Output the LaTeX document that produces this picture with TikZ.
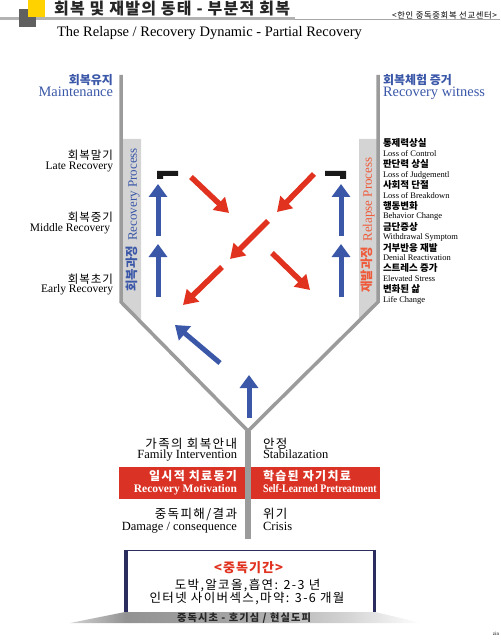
\documentclass[tikz,border=0pt]{standalone}
\usepackage{fontspec}
\setmainfont{Liberation Serif}
\newfontfamily\kr{Noto Sans CJK KR}
\newfontfamily\krsp[LetterSpace=11]{Noto Sans CJK KR}
\newfontfamily\krti[LetterSpace=8]{Noto Sans CJK KR}
\usetikzlibrary{arrows.meta,positioning}

\definecolor{recblue}{HTML}{3A57A8}
\definecolor{relred}{HTML}{E0321F}
\definecolor{barred}{HTML}{DA3326}
\definecolor{orred}{HTML}{EF5A3A}
\definecolor{ygray}{HTML}{9B9B9B}
\definecolor{bandgray}{HTML}{D4D4D4}
\definecolor{boxnavy}{HTML}{2B2D5E}
\definecolor{hdyellow}{HTML}{FFD200}

\newcommand{\krsize}[1]{\kr\fontsize{#1}{#1}\selectfont}
\newcommand{\krwide}[1]{\krsp\fontsize{#1}{#1}\selectfont}
\newcommand{\krmid}[1]{\krti\fontsize{#1}{#1}\selectfont}
\newcommand{\ensize}[1]{\fontsize{#1}{#1}\selectfont}

\pgfdeclarehorizontalshading{stripshade}{100bp}{color(0bp)=(gray!35); color(25bp)=(gray!35); color(33bp)=(gray!85); color(50bp)=(gray!70); color(64bp)=(gray!35); color(75bp)=(white); color(100bp)=(white)}

\begin{document}
\begin{tikzpicture}[
  x=1pt, y=-1pt,
  every node/.style={inner sep=0pt, outer sep=0pt},
  krlab/.style={font=\krmid{11.5}, anchor=base east},
  enlab/.style={font=\ensize{11.5}, anchor=base east},
  krhead/.style={font=\krsize{12}\bfseries, text=recblue},
  enhead/.style={font=\ensize{14.4}, text=recblue},
  krrel/.style={font=\krsize{9.5}\bfseries, anchor=base west},
  enrel/.style={font=\ensize{8.5}, anchor=base west},
  krbot/.style={font=\krwide{12.5}},
  enbot/.style={font=\ensize{12.5}},
  upblue/.style={draw=recblue, line width=5pt, -{Triangle[width=18pt,length=13pt]}},
  redarr/.style={draw=relred, line width=5.5pt, -{Triangle[width=17pt,length=14pt]}},
  yline/.style={draw=ygray, line width=3.5pt, line join=miter},
  ]
  \useasboundingbox (0,0) rectangle (500,644);

  % header
  \draw[gray!60, line width=3pt] (0,19) -- (295,19);
  \draw[gray!70, line width=1pt] (295,20) -- (500,20);
  \fill[gray!75!black] (19,9) rectangle (36,27);
  \fill[hdyellow] (28,0) rectangle (45,17);
  \node[font=\krmid{16}\bfseries, text=black!85, anchor=base west] (title) at (54,15) {회복 및 재발의 동태 - 부분적 회복};
  \node[font=\krmid{8.3}, anchor=base east] (mission) at (497,18.5) {<한인 중독중회복 선교센터>};
  \node[font=\ensize{14.5}, anchor=base west] (subtitle) at (57,36.6) {The Relapse / Recovery Dynamic - Partial Recovery};

  % bands beside the Y
  \fill[bandgray] (121,139) -- (141,139) -- (141,322) -- (121,302) -- cycle;
  \fill[bandgray] (359,139) -- (378,139) -- (378,302) -- (359,321) -- cycle;

  % red bar
  \fill[barred] (119,467) rectangle (380,499);

  % the Y
  \coordinate (ltop) at (121,75);
  \coordinate (lbend) at (121,302);
  \coordinate (vjoin) at (248,431);
  \coordinate (rbend) at (378,302);
  \coordinate (rtop) at (378,75);
  \coordinate (stembot) at (248,539);
  \draw[yline] (ltop) -- (lbend) -- (vjoin) -- (rbend) -- (rtop);
  \draw[ygray, line width=6pt] (vjoin) -- (stembot);

  \node[rotate=90, text=recblue] (recproc) at (133,220) {{\krsize{12.5}\bfseries 회복과정}\hspace{5pt}{\ensize{13}Recovery Process}};
  \node[rotate=90, text=orred] (relproc) at (368,225) {{\krsize{12.5}\bfseries 재발과정}\hspace{5pt}{\ensize{13}Relapse Process}};

  % left labels
  \node[krhead, anchor=base east] (mainkr) at (113,85) {회복유지};
  \node[enhead, anchor=base east] (mainen) at (113,97) {Maintenance};
  \node[krlab] (latekr) at (113,160) {회복말기};
  \node[enlab] (lateen) at (113,170) {Late Recovery};
  \node[krlab] (midkr) at (113,222) {회복중기};
  \node[enlab] (miden) at (110,231) {Middle Recovery};
  \node[krlab] (earlykr) at (113,283) {회복초기};
  \node[enlab] (earlyen) at (113,292) {Early Recovery};

  % right labels
  \node[krhead, anchor=base west] (witkr) at (383,85) {회복체험 증거};
  \node[enhead, anchor=base west] (witen) at (383,97) {Recovery witness};
  \node[krrel] (ctrlkr) at (383,147) {통제력상실};
  \node[enrel] (ctrlen) at (383,156.5) {Loss of Control};
  \node[krrel] (judgkr) at (383,167.8) {판단력 상실};
  \node[enrel] (judgen) at (383,177.3) {Loss of Judgementl};
  \node[krrel] (sockr) at (383,188.6) {사회적 단절};
  \node[enrel] (socen) at (383,198.1) {Loss of Breakdown};
  \node[krrel] (behkr) at (383,209.4) {행동변화};
  \node[enrel] (behen) at (383,218.9) {Behavior Change};
  \node[krrel] (wdkr) at (383,230.2) {금단증상};
  \node[enrel] (wden) at (383,239.7) {Withdrawal Symptom};
  \node[krrel] (denkr) at (383,251) {거부반응 재발};
  \node[enrel] (denen) at (383,260.5) {Denial Reactivation};
  \node[krrel] (strkr) at (383,271.8) {스트레스 증가};
  \node[enrel] (stren) at (383,281.3) {Elevated Stress};
  \node[krrel] (lifekr) at (383,292.6) {변화된 삶};
  \node[enrel] (lifeen) at (383,302.1) {Life Change};

  % brackets
  \fill[black!90] (157,171) -- (178,171) -- (178,176) -- (163,176) -- (163,179) -- (157,179) -- cycle;
  \fill[black!90] (325,171) -- (346,171) -- (346,179) -- (340,179) -- (340,176) -- (325,176) -- cycle;

  % blue arrows
  \coordinate (lu1a) at (158,236); \coordinate (lu1b) at (158,184);
  \coordinate (lu2a) at (158,297); \coordinate (lu2b) at (158,244);
  \coordinate (ru1a) at (341,236); \coordinate (ru1b) at (341,184);
  \coordinate (ru2a) at (341,297); \coordinate (ru2b) at (341,244);
  \coordinate (dga) at (220,363); \coordinate (dgb) at (175,325);
  \coordinate (cua) at (249,418); \coordinate (cub) at (249,375);
  \draw[upblue] (lu1a) -- (lu1b);
  \draw[upblue] (lu2a) -- (lu2b);
  \draw[upblue] (ru1a) -- (ru1b);
  \draw[upblue] (ru2a) -- (ru2b);
  \draw[upblue] (dga) -- (dgb);
  \draw[upblue] (cua) -- (cub);

  % red arrows
  \coordinate (r1a) at (191,177); \coordinate (r1b) at (229,213);
  \coordinate (r2a) at (314,174); \coordinate (r2b) at (277,212);
  \coordinate (r3a) at (268,221); \coordinate (r3b) at (230,259);
  \coordinate (r4a) at (272,253); \coordinate (r4b) at (310,290);
  \coordinate (r5a) at (222,267); \coordinate (r5b) at (183,305);
  \draw[redarr] (r1a) -- (r1b);
  \draw[redarr] (r2a) -- (r2b);
  \draw[redarr] (r3a) -- (r3b);
  \draw[redarr] (r4a) -- (r4b);
  \draw[redarr] (r5a) -- (r5b);

  % stem labels
  \node[krbot, anchor=base east] (famkr) at (237,448) {가족의 회복안내};
  \node[enbot, anchor=base east] (famen) at (237,458) {Family Intervention};
  \node[krbot, anchor=base west] (stabkr) at (263,448) {안정};
  \node[enbot, anchor=base west] (staben) at (263,458) {Stabilazation};
  \node[font=\krwide{12}\bfseries, text=white, anchor=base east] (motkr) at (237,480.5) {일시적 치료동기};
  \node[font=\ensize{11.5}\bfseries, text=white, anchor=base east] (moten) at (237,492) {Recovery Motivation};
  \node[font=\krwide{12}\bfseries, text=white, anchor=base west] (selfkr) at (263,480.5) {학습된 자기치료};
  \node[font=\ensize{11.5}\bfseries, text=white, anchor=base west] (selfen) at (263,492.5) {\scalebox{0.86}[1]{Self-Learned Pretreatment}};
  \node[krbot, anchor=base east] (dmgkr) at (237,518) {중독피해/결과};
  \node[enbot, anchor=base east] (dmgen) at (237,530) {Damage / consequence};
  \node[krbot, anchor=base west] (criskr) at (263,518) {위기};
  \node[enbot, anchor=base west] (crisen) at (263,530) {Crisis};

  % period box
  \fill[white] (124,550) rectangle (376,612);
  \draw[boxnavy, line width=1pt] (124,550.5) -- (376,550.5);
  \draw[boxnavy, line width=3.5pt] (125.75,550) -- (125.75,612) (374.25,550) -- (374.25,612);
  \node[font=\krmid{13}\bfseries, text=relred, anchor=base] (periodhd) at (248.5,572) {<중독기간>};
  \node[font=\krwide{12.5}, anchor=base] (gamble) at (247.5,589) {도박,알코올,흡연: 2-3 년};
  \node[font=\krwide{12.5}, anchor=base] (cyber) at (247,602) {인터넷 사이버섹스,마약: 3-6 개월};

  % onset strip
  \shade[shading=stripshade] (125,612) -- (375,612) -- (422,623) -- (70,623) -- cycle;
  \node[font=\krwide{10.2}\bfseries, text=black!85, anchor=base] (onset) at (244,621.5) {중독시초 - 호기심 / 현실도피};

  \node[font=\ensize{5}, anchor=base east] (zin) at (499,635) {zin};
\end{tikzpicture}
\end{document}
